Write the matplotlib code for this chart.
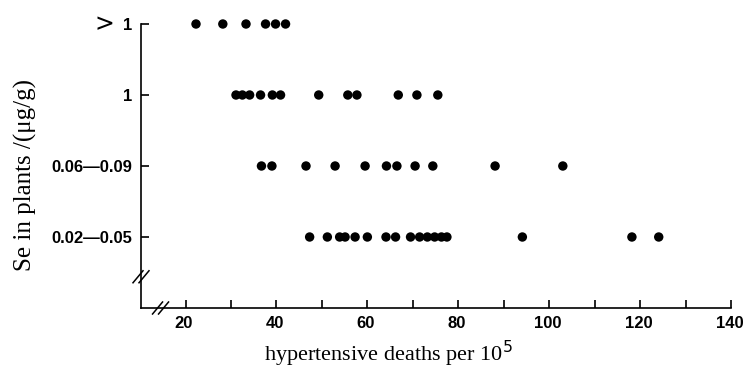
import matplotlib
matplotlib.use("Agg")
import matplotlib.pyplot as plt
from matplotlib.lines import Line2D
from matplotlib.transforms import IdentityTransform, offset_copy
from matplotlib.font_manager import FontProperties

# Data
categories = ["0.02\u20140.05", "0.06\u20140.09", "1", ">1"]
row_gt1 = [22.3, 28.2, 33.3, 37.6, 39.8, 42.0]
row_1 = [31.1, 32.5, 34.1, 36.5, 39.1, 40.9, 49.3, 55.7, 57.7, 66.8, 70.9, 75.5]
row_006_009 = [36.7, 39.0, 46.5, 52.9, 59.5, 64.2, 66.5, 70.5, 74.4, 88.1, 103.0]
row_002_005 = [47.3, 51.2, 53.9, 55.1, 57.3, 60.0, 64.1, 66.2, 69.5, 71.5, 73.2,
               74.8, 76.3, 77.5, 94.1, 118.2, 124.1]
rows = [row_002_005, row_006_009, row_1, row_gt1]
x_ticks_major = [20, 40, 60, 80, 100, 120, 140]
x_tick_labels = ["20", "40", "60", "80", "100", "120", "140"]
x_ticks_minor = [30, 50, 70, 90, 110, 130]

fig = plt.figure(figsize=(7.43, 3.70), dpi=100)
ax = fig.add_axes([141/743, 1 - 308/370, (731 - 141)/743, (308 - 24)/370])

for i, r in enumerate(rows):
    ax.scatter(r, [i + 1] * len(r), s=46, color="black", edgecolors="none",
               clip_on=False, zorder=3)

ax.set_xlim(10.2, 140)
ax.set_ylim(0, 4)
ax.spines["top"].set_visible(False)
ax.spines["right"].set_visible(False)
for s in ("left", "bottom"):
    ax.spines[s].set_linewidth(1.2)

ax.set_xticks(x_ticks_major)
ax.set_xticklabels([])
ax.set_xticks(x_ticks_minor, minor=True)
ax.set_yticks([1, 2, 3, 4])
# the top label's ">" is printed larger in the reference: draw it as its own text
ax.set_yticklabels(categories[:3] + [categories[3][1:]])
tick_fp = FontProperties(family="Liberation Sans", weight="bold", size=12)
for lab in ax.get_yticklabels():
    lab.set_fontproperties(tick_fp)
ax.tick_params(axis="both", which="both", direction="in", length=6, width=1.2)
ax.tick_params(axis="y", pad=6)

# x tick labels as texts (slightly shifted left, as printed)
xtrans = offset_copy(ax.get_xaxis_transform(), fig=fig, x=-1.5, y=-8,
                     units="dots")
for xv, lab in zip(x_ticks_major, x_tick_labels):
    ax.text(xv, 0, lab, transform=xtrans, ha="center", va="top",
            fontproperties=tick_fp)

# large ">" before the top tick label
ax.annotate(categories[3][0], xy=(0, 4), xycoords=("axes fraction", "data"),
            xytext=(-19, 0), textcoords="offset points", ha="right",
            va="center", family="DejaVu Sans", size=17)

ax.set_xlabel("hypertensive deaths per 10$^5$", family="Liberation Serif",
              size=16)
ax.xaxis.set_label_coords((388 - 141) / 590, -0.11)
ax.set_ylabel("Se in plants /(\u03bcg/g)", family="Liberation Serif", size=18)
ax.yaxis.set_label_coords(-0.176, (308 - 175) / 284)

# axis break marks
fig.canvas.draw()

def slashes(xd, yd):
    px, py = ax.transData.transform((xd, yd))
    for d in (-3, 3):
        ln = Line2D([px + d - 5, px + d + 5], [py - 6, py + 6], color="black",
                    lw=1.1, transform=IdentityTransform())
        fig.add_artist(ln)

slashes(10.2, 0.44)
slashes(14.5, 0)

fig.savefig("out.png", dpi=100)
